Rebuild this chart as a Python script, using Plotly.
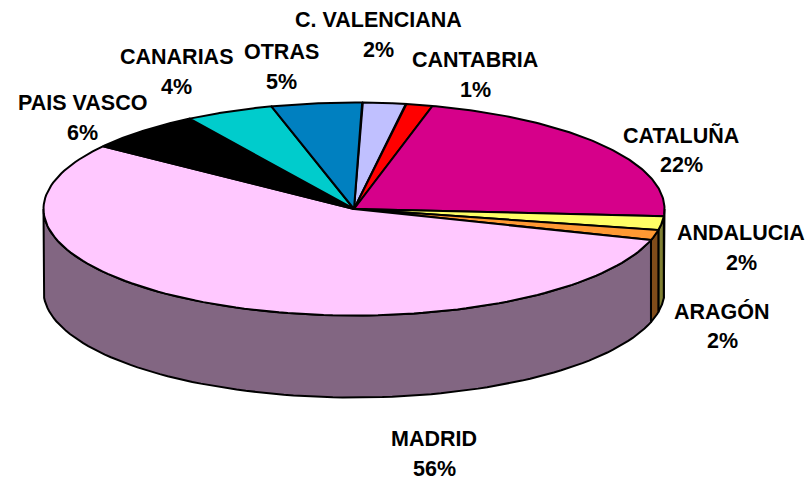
import numpy as np
import plotly.graph_objects as go

# Slices, clockwise from the top of the pie
categories = ["C. VALENCIANA", "CANTABRIA", "CATALUÑA", "ANDALUCIA", "ARAGÓN",
              "MADRID", "PAIS VASCO", "CANARIAS", "OTRAS"]
values = [2.25, 1.4, 22.0, 2.1, 1.55, 55.3, 6.1, 4.6, 4.7]
pct_labels = ["2%", "1%", "22%", "2%", "2%", "56%", "6%", "4%", "5%"]
top_colors = ["#C0C0FF", "#FF0000", "#D6008A", "#FFFF66", "#FF9933",
              "#FFC8FF", "#000000", "#00CCCC", "#0080C0"]
side_colors = ["#606080", "#800000", "#6B0045", "#808033", "#804C1A",
               "#826682", "#000000", "#006666", "#004060"]
label_x = [378, 475, 681, 741, 722, 434, 82, 176, 281]
label_y = [20, 60, 135, 233, 311, 439, 103, 57, 52]

CX, CY, RX, RY, DEPTH = 354, 209, 310.5, 106.5, 82
START = 1.5
LINE_GAP = 30
FONT = dict(family="Liberation Sans, Arial, sans-serif", size=21.5, color="black")


def ell(theta_deg):
    t = np.radians(theta_deg)
    return CX + RX * np.sin(t), CY - RY * np.cos(t)


fig = go.Figure()
total = sum(values)
edges = START + np.concatenate([[0], np.cumsum(values)]) * 360 / total


def poly(xs, ys, fill, width=2):
    fig.add_trace(go.Scatter(x=list(xs) + [xs[0]], y=list(ys) + [ys[0]], mode="lines",
                             fill="toself", fillcolor=fill,
                             line=dict(color="black", width=width),
                             hoverinfo="skip", showlegend=False))


# Visible side walls (front half of the ellipse)
for a, b, col in zip(edges[:-1], edges[1:], side_colors):
    lo, hi = max(a, 90), min(b, 270)
    if hi <= lo:
        continue
    th = np.linspace(lo, hi, 90)
    x, y = ell(th)
    poly(np.r_[x, x[::-1]], np.r_[y, (y + DEPTH)[::-1]], col)

# Top faces
for a, b, col in zip(edges[:-1], edges[1:], top_colors):
    th = np.linspace(a, b, 120)
    x, y = ell(th)
    poly(np.r_[CX, x], np.r_[CY, y], col)

# Labels
for name, pct, lx, ly in zip(categories, pct_labels, label_x, label_y):
    fig.add_annotation(x=lx, y=ly, text=f"<b>{name}</b>", showarrow=False, font=FONT,
                       xanchor="center", yanchor="middle")
    fig.add_annotation(x=lx, y=ly + LINE_GAP, text=f"<b>{pct}</b>", showarrow=False, font=FONT,
                       xanchor="center", yanchor="middle")

fig.update_xaxes(range=[0, 808], visible=False, fixedrange=True)
fig.update_yaxes(range=[480, 0], visible=False, fixedrange=True)
fig.update_layout(width=808, height=480, margin=dict(l=0, r=0, t=0, b=0),
                  paper_bgcolor="white", plot_bgcolor="white", showlegend=False)
fig.write_html("out.html", config={"displayModeBar": False},
               post_script="document.body.style.margin='0';")
